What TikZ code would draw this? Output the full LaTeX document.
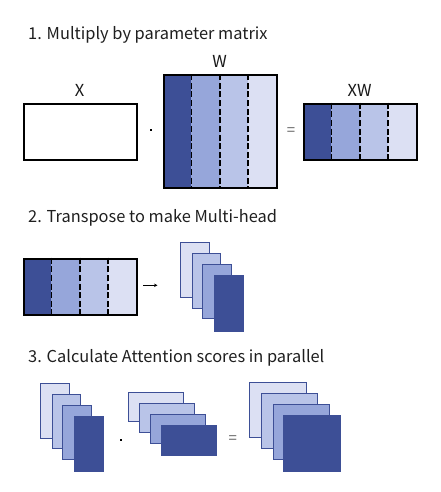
\documentclass[tikz,border=0pt]{standalone}
\usepackage{fontspec}
\setmainfont{Noto Sans CJK JP}
\usetikzlibrary{arrows.meta}
\definecolor{c1}{RGB}{61,79,150}
\definecolor{c2}{RGB}{150,166,218}
\definecolor{c3}{RGB}{185,196,232}
\definecolor{c4}{RGB}{220,224,243}
\newcommand{\mystripes}[4]{%
  \pgfmathsetmacro\sw{(#3-#1)/4}%
  \foreach \i/\c in {0/c1,1/c2,2/c3,3/c4}{\fill[\c] ({#1+\i*\sw},#2) rectangle ({#1+(\i+1)*\sw},#4);}%
  \foreach \i in {1,2,3}{\draw[divline] ({#1+\i*\sw},#2) -- ({#1+\i*\sw},#4);}%
}
\tikzset{
  ttl/.style={anchor=base west, inner sep=0, font=\fontsize{16.4}{18}\selectfont, text=black!88},
  lbl/.style={inner sep=0, font=\fontsize{16.5}{18}\selectfont, text=black!90},
  frame/.style={draw=black, line width=2pt, inner sep=0, anchor=north west},
  divline/.style={black, line width=1.7pt, dash pattern=on 6pt off 2.6pt},
  sheet/.style={draw=c1, line width=0.9pt, inner sep=0, anchor=north west},
  dotop/.style={fill=black, inner sep=0, minimum size=2.2pt},
  eqop/.style={inner sep=0, font=\fontsize{15}{16}\selectfont, text=black!60},
}
\begin{document}
\begin{tikzpicture}[x=1pt,y=-1pt]
\useasboundingbox (0,0) rectangle (441,492);
% ---------- Section 1
\node[ttl] (t1) at (28,39.5) {1. Multiply by parameter matrix};
\node[frame, minimum width=113pt, minimum height=56pt] (X) at (23.3,102.7) {};
\node[lbl] (lX) at (79.7,90) {X};
\node[dotop] (d1) at (150.7,130) {};
\mystripes{163.3}{74.3}{276}{186.7}
\node[frame, minimum width=112.7pt, minimum height=112.4pt] (W) at (163.3,74.3) {};
\node[lbl] (lW) at (219.7,61.5) {W};
\node[eqop] (e1) at (291,131.7) {=};
\mystripes{303.3}{102.7}{416}{158.7}
\node[frame, minimum width=112.7pt, minimum height=56pt] (XW) at (303.3,102.7) {};
\node[lbl] (lXW) at (359.7,90) {XW};
% ---------- Section 2
\node[ttl] (t2) at (28,222.7) {2. Transpose to make Multi-head};
\mystripes{23.3}{257.7}{136}{314}
\node[frame, minimum width=112.7pt, minimum height=56.3pt] (M2) at (23.3,257.7) {};
\coordinate (a0) at (143,285.3);
\coordinate (a1) at (157.5,285.3);
\draw[line width=0.8pt, -{Stealth[length=3.5pt,width=3.5pt]}] (a0) -- (a1);
\node[sheet, fill=c4, minimum width=29pt, minimum height=54.4pt] (h1) at (180.3,242.3) {};
\node[sheet, fill=c3, minimum width=28pt, minimum height=55pt] (h2) at (192.3,253.3) {};
\node[sheet, fill=c2, minimum width=29pt, minimum height=54pt] (h3) at (202.3,264.3) {};
\node[sheet, fill=c1, minimum width=28.7pt, minimum height=55.7pt] (h4) at (214,275) {};
% ---------- Section 3
\node[ttl] (t3) at (28,362.7) {3. Calculate Attention scores in parallel};
\node[sheet, fill=c4, minimum width=29pt, minimum height=54.4pt] (q1) at (40.3,383.3) {};
\node[sheet, fill=c3, minimum width=28pt, minimum height=54pt] (q2) at (52.3,394.3) {};
\node[sheet, fill=c2, minimum width=29pt, minimum height=53.7pt] (q3) at (62.3,405.3) {};
\node[sheet, fill=c1, minimum width=28.7pt, minimum height=54.7pt] (q4) at (74,416) {};
\node[dotop] (d3) at (120.7,440) {};
\node[sheet, fill=c4, minimum width=54.4pt, minimum height=29pt] (k1) at (128.3,392.3) {};
\node[sheet, fill=c3, minimum width=54.4pt, minimum height=29pt] (k2) at (139.3,403.3) {};
\node[sheet, fill=c2, minimum width=54.4pt, minimum height=29.3pt] (k3) at (150.3,414) {};
\node[sheet, fill=c1, minimum width=54.7pt, minimum height=29.7pt] (k4) at (161,425) {};
\node[eqop] (e3) at (232.7,440) {=};
\node[sheet, fill=c4, minimum width=57pt, minimum height=54.4pt] (s1) at (249.3,382.3) {};
\node[sheet, fill=c3, minimum width=56.3pt, minimum height=55pt] (s2) at (261,393.3) {};
\node[sheet, fill=c2, minimum width=56.6pt, minimum height=54.7pt] (s3) at (272.7,404.3) {};
\node[sheet, fill=c1, minimum width=56.7pt, minimum height=55.7pt] (s4) at (283,415) {};
\end{tikzpicture}
\end{document}
